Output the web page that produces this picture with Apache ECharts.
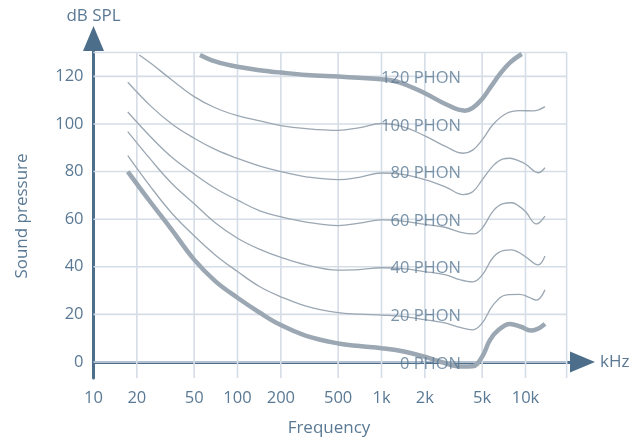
<!DOCTYPE html>
<html><head><meta charset="utf-8">
<script src="https://cdn.jsdelivr.net/npm/echarts@6/dist/echarts.min.js"></script>
<style>html,body{margin:0;padding:0;background:#fff}#c{width:640px;height:442px}</style>
</head><body><div id="c"></div>
<script>
// Tick values and labels
const freqTicks = [10, 20, 50, 100, 200, 500, 1000, 2000, 5000, 10000];
const freqTickLabels = ['10', '20', '50', '100', '200', '500', '1k', '2k', '5k', '10k'];
const dbTicks = [0, 20, 40, 60, 80, 100, 120];

// Equal-loudness contours: [frequency Hz, dB SPL]
const phon0 = [[17.3,80],[25,67],[35,55.5],[50,43],[70,34],[100,27],[143,20.7],[200,15.5],[300,11],[500,7.8],[700,6.7],[1000,5.8],[1400,4.5],[2000,2.2],[2600,0],[3500,-1.9],[4300,-1.8],[5000,2.2],[5660,9.2],[6480,13.4],[7800,16],[9300,14.8],[11040,13.2],[12500,14.3],[13650,16]];
const phon20 = [[17.3,86.7],[25,73.5],[35,62.5],[50,53],[70,45],[100,38],[143,31.6],[200,27.4],[300,23.5],[500,20.7],[700,20.1],[1000,19.7],[1400,19.2],[2000,17.8],[2800,16.3],[3500,14.5],[4300,13.5],[5000,16.3],[5970,24],[7400,28.2],[9100,28.4],[10500,27.3],[11900,26],[13650,30.3]];
const phon40 = [[17.3,96.8],[25,85],[35,75],[50,66.5],[70,58.5],[100,52],[143,47.3],[200,44],[300,40.8],[500,38.6],[700,38.8],[1000,39.6],[1400,39.2],[2000,38],[2800,36.6],[3500,34.6],[4300,33.7],[5000,36.5],[5970,44],[7000,46.8],[8020,47.1],[9000,46],[10000,44.2],[12270,40.8],[13650,44.5]];
const phon60 = [[17.3,105],[25,94.5],[35,86],[50,79],[70,73],[100,68],[143,63.5],[200,61],[300,58.8],[500,57.3],[700,58.3],[1000,59.7],[1400,59.2],[2000,57.8],[2800,56.5],[3500,54.6],[4370,53.8],[5000,56.2],[5970,63.5],[7000,66.5],[8020,66.9],[9000,65.5],[10000,63.2],[11900,58],[13650,61.3]];
const phon80 = [[17.3,117.5],[25,107.5],[35,100],[50,94],[70,89.3],[100,85.5],[143,82.3],[200,80],[300,77.8],[500,76.6],[700,77.6],[1000,79.4],[1400,78.8],[2000,76.6],[2800,73.5],[3700,70.3],[4300,71.5],[5000,76.5],[5970,82.5],[7000,85.3],[7800,85.6],[9000,84.5],[10000,83.2],[12270,79.5],[13650,81.6]];
const phon100 = [[20.8,129],[25,125.5],[35,118.5],[50,111.5],[70,106.8],[100,103.5],[143,101.3],[200,99.3],[300,98],[500,97.3],[709,98.5],[1000,100.2],[1416,98.8],[2000,95],[2800,90.5],[3700,87.7],[4300,89],[5000,93.3],[5970,99.9],[7410,104.5],[9120,105.6],[11320,105.5],[13650,107.3]];
const phon120 = [[54.9,129],[70,126.3],[100,124],[143,122.6],[200,121.6],[300,120.6],[500,119.9],[700,119.4],[1000,118.8],[1343,117.4],[2000,112.9],[2800,108.3],[3800,105.6],[4300,106.8],[5000,110.5],[5800,116],[6650,121],[7800,125.8],[9420,129.4]];

const phonLevels = [0, 20, 40, 60, 80, 100, 120];
const phonNames = ['0 PHON', '20 PHON', '40 PHON', '60 PHON', '80 PHON', '100 PHON', '120 PHON'];

// Grid extents
const gridFreqMin = 10, gridFreqMax = 19300, gridDbMin = -6.72, gridDbMax = 130;

const TEXT = '#5a7994';
const AXIS = '#4d6e8b';
const GRID = '#d5dde6';
const CURVE = '#9ba7b2';
const FONT = '"Open Sans", sans-serif';

const gridSeries = [];
dbTicks.concat([gridDbMax]).forEach(v => gridSeries.push([[gridFreqMin, v], [gridFreqMax, v]]));
freqTicks.slice(1).concat([gridFreqMax]).forEach(f => gridSeries.push([[f, gridDbMin], [f, gridDbMax]]));

const gridLineSeries = gridSeries.map(d => ({
  type: 'line', data: d, showSymbol: false, z: 1, silent: true, clip: false,
  lineStyle: {color: GRID, width: 1.6}
}));

const curves = [phon0, phon20, phon40, phon60, phon80, phon100, phon120];
const curveSeries = curves.map((d, i) => ({
  type: 'line', data: d, showSymbol: false, smooth: 0.4, z: 3, silent: true,
  lineStyle: {color: CURVE, width: (i === 0 || i === 6) ? 4.5 : 1.3}
}));

const chart = echarts.init(document.getElementById('c'), null, {renderer: 'canvas'});
chart.setOption({
  animation: false,
  backgroundColor: '#fff',
  textStyle: {fontFamily: FONT},
  grid: {left: 93.5, right: 57.5, top: 38.5, bottom: 64, containLabel: false},
  xAxis: {
    type: 'log', logBase: 10, min: 10, max: 24880,
    axisLine: {show: true, symbol: ['none', 'triangle'], symbolSize: [21, 25], lineStyle: {color: AXIS, width: 3}},
    axisTick: {show: false}, splitLine: {show: false}, minorSplitLine: {show: false},
    axisLabel: {customValues: freqTicks, margin: 12, color: TEXT, fontSize: 16.5, fontFamily: FONT,
      formatter: v => { const i = freqTicks.findIndex(t => Math.abs(t - v) / t < 1e-6); return i >= 0 ? freqTickLabels[i] : ''; }},
    name: 'kHz', nameLocation: 'end', nameGap: 17.5,
    nameTextStyle: {color: TEXT, fontSize: 17, fontFamily: FONT, align: 'left', verticalAlign: 'middle'}
  },
  yAxis: {
    type: 'value', min: -6.72, max: 135.9,
    axisLine: {show: true, symbol: ['none', 'triangle'], symbolSize: [21, 25], lineStyle: {color: AXIS, width: 3}},
    axisTick: {show: false}, splitLine: {show: false},
    axisLabel: {customValues: dbTicks, margin: 10, color: TEXT, fontSize: 16.5, fontFamily: FONT},
    name: 'dB SPL', nameLocation: 'end', nameGap: 14,
    nameTextStyle: {color: TEXT, fontSize: 17, fontFamily: FONT, align: 'center', verticalAlign: 'bottom'}
  },
  graphic: [
    {type: 'text', x: 329, y: 428.6, style: {text: 'Frequency', fill: TEXT, font: '17px ' + FONT, align: 'center', verticalAlign: 'middle'}},
    {type: 'text', x: 22.5, y: 216, rotation: Math.PI / 2, style: {text: 'Sound pressure', fill: TEXT, font: '17px ' + FONT, align: 'center', verticalAlign: 'middle'}}
  ],
  series: gridLineSeries.concat(curveSeries).concat([
    {type: 'scatter', z: 5, silent: true, symbolSize: 0.01,
      data: phonLevels.map((v, i) => ({value: [3565, v], name: phonNames[i]})),
      label: {show: true, position: 'left', distance: 0, offset: [0, 2], formatter: p => p.name,
        color: TEXT, fontSize: 16.5, fontFamily: FONT}}
  ])
});
</script>
</body></html>
